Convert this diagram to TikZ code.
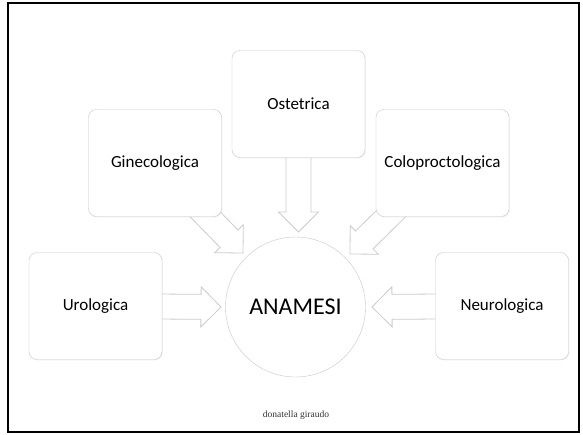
\documentclass[tikz,border=0pt]{standalone}
\usepackage{fontspec}
\setmainfont{Carlito}
\newfontfamily\footfont{Liberation Serif}
\usetikzlibrary{calc,backgrounds,shadows}
\newcommand\blockarrow[2]{%
  \path (#2) coordinate (ba-t) ($(#2)!20pt!(#1)$) coordinate (ba-h);
  \draw[barrow] ($(#1)!12.5pt!90:(ba-t)$) -- ($(ba-h)!12.5pt!90:(ba-t)$)
    -- ($(ba-h)!20pt!90:(ba-t)$) -- (ba-t) -- ($(ba-h)!20pt!-90:(ba-t)$)
    -- ($(ba-h)!12.5pt!-90:(ba-t)$) -- ($(#1)!12.5pt!-90:(ba-t)$) -- cycle;
}
\begin{document}
\begin{tikzpicture}[x=1pt,y=-1pt,
  box/.style={draw=black!22, fill=white, rounded corners=8pt,
    minimum width=133pt, minimum height=107pt, inner sep=0pt,
    font=\fontsize{17}{20}\selectfont,
    drop shadow={opacity=0.12, shadow xshift=0.8pt, shadow yshift=-0.8pt}},
  hub/.style={circle, draw=black!22, fill=white, minimum size=140pt,
    inner sep=0pt, font=\fontsize{24}{28}\selectfont},
  barrow/.style={draw=black!20, fill=white, line width=0.8pt, line join=miter},
  frame/.style={draw=black, line width=1.6pt}]
\useasboundingbox (0,0) rectangle (583,434);
\begin{scope}[on background layer]
  \fill[white] (0,0) rectangle (583,434);
\end{scope}
\draw[frame] (8,3) rectangle (579,432);

\node[box] (ost) at (298.5,104) {Ostetrica};
\node[box] (gin) at (155,163) {Ginecologica};
\node[box] (col) at (442.5,163) {Coloproctologica};
\node[box] (uro) at (95.5,306) {Urologica};
\node[box] (neu) at (502,306) {Neurologica};
\node[hub] (ana) at (295.5,307) {ANAMESI};
\node[font=\footfont\fontsize{9.5}{11}\selectfont, text=black!80] (foot) at (296,415) {donatella giraudo};

\coordinate (tost) at (298.5,232);
\coordinate (tgin) at (243,253);
\coordinate (tcol) at (350,254);
\coordinate (turo) at (221,307);
\coordinate (tneu) at (372,307);

\begin{scope}[on background layer]
  \blockarrow{ost.center}{tost}
  \blockarrow{gin.center}{tgin}
  \blockarrow{col.center}{tcol}
  \blockarrow{uro.center}{turo}
  \blockarrow{neu.center}{tneu}
\end{scope}
\end{tikzpicture}
\end{document}
